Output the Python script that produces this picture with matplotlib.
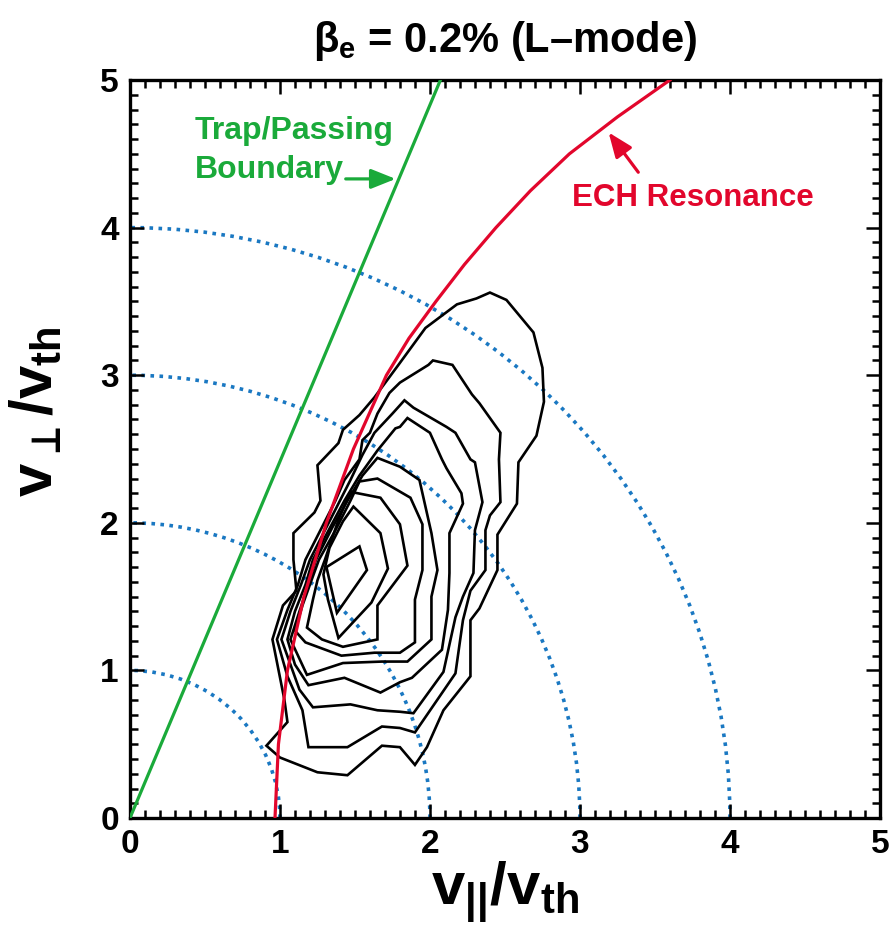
import matplotlib.pyplot as plt
from matplotlib.patches import Arc, Polygon

FONT = ['Liberation Sans', 'DejaVu Sans']
plt.rcParams['font.family'] = FONT
plt.rcParams['font.weight'] = 'bold'
plt.rcParams['mathtext.fontset'] = 'custom'
plt.rcParams['mathtext.bf'] = 'Liberation Sans:bold'
plt.rcParams['mathtext.rm'] = 'Liberation Sans:bold'
plt.rcParams['mathtext.it'] = 'Liberation Sans:bold'
plt.rcParams['mathtext.fallback'] = 'stixsans'

# energy circles |v|/vth
radii = [1, 2, 3, 4]

# trapped / passing boundary
trap_x = [0.0, 2.07]
trap_y = [0.0, 5.0]

# ECH resonance curve
ech_y = [0.0, 0.5, 1.0, 1.5, 2.0, 2.5, 3.0, 3.25, 3.5, 3.75, 4.0, 4.25, 4.5, 4.75, 5.0]
ech_x = [0.967, 0.99, 1.05, 1.16, 1.31, 1.49, 1.71, 1.86, 2.04, 2.23, 2.44, 2.67, 2.93, 3.25, 3.60]

# distribution contours (outer -> inner), v_par, v_perp
c1 = [(2.40, 3.56), (2.51, 3.51), (2.69, 3.29), (2.75, 3.05), (2.76, 2.82), (2.71, 2.59),
      (2.59, 2.41), (2.58, 2.13), (2.45, 1.92), (2.45, 1.68), (2.33, 1.42), (2.27, 1.34),
      (2.27, 0.96), (2.09, 0.73), (1.98, 0.48), (1.90, 0.36), (1.80, 0.48), (1.68, 0.49),
      (1.45, 0.29), (1.25, 0.31), (1.00, 0.41), (0.91, 0.49), (1.05, 0.65), (1.03, 0.80),
      (0.95, 1.21), (1.02, 1.44), (1.11, 1.54), (1.09, 1.75), (1.09, 1.93), (1.23, 2.07),
      (1.27, 2.15), (1.25, 2.39), (1.39, 2.54), (1.42, 2.63), (1.53, 2.73), (1.63, 2.85),
      (1.79, 3.07), (1.97, 3.32), (2.18, 3.48), (2.31, 3.52)]
c2 = [(2.02, 3.10), (2.15, 3.07), (2.28, 2.87), (2.33, 2.81), (2.47, 2.61), (2.46, 2.43),
      (2.47, 2.14), (2.40, 2.05), (2.37, 1.95), (2.37, 1.68), (2.27, 1.54), (2.22, 1.34),
      (2.17, 0.98), (1.90, 0.58), (1.80, 0.61), (1.68, 0.62), (1.45, 0.48), (1.19, 0.48),
      (1.15, 0.73), (1.05, 0.96), (0.98, 1.21), (1.05, 1.41), (1.12, 1.58), (1.17, 1.75),
      (1.27, 1.95), (1.37, 2.15), (1.43, 2.29), (1.53, 2.43), (1.55, 2.56), (1.60, 2.61),
      (1.65, 2.74), (1.73, 2.88), (1.80, 2.95), (1.99, 3.07)]
c3 = [(1.83, 2.83), (1.89, 2.78), (2.11, 2.65), (2.17, 2.61), (2.27, 2.43), (2.30, 2.41),
      (2.35, 2.14), (2.30, 1.95), (2.29, 1.66), (2.22, 1.50), (2.17, 1.36), (2.09, 0.99),
      (1.89, 0.71), (1.80, 0.72), (1.65, 0.73), (1.47, 0.77), (1.22, 0.75), (1.13, 0.87),
      (1.01, 1.21), (1.07, 1.40), (1.14, 1.58), (1.20, 1.75), (1.30, 1.95), (1.40, 2.15),
      (1.47, 2.29), (1.55, 2.46), (1.63, 2.61), (1.75, 2.74)]
c4 = [(1.85, 2.71), (2.00, 2.61), (2.08, 2.43), (2.11, 2.37), (2.21, 2.20), (2.22, 2.13),
      (2.13, 1.93), (2.13, 1.66), (2.12, 1.41), (2.08, 1.14), (1.88, 0.95), (1.80, 0.92),
      (1.67, 0.85), (1.43, 0.95), (1.19, 0.90), (1.10, 1.04), (1.05, 1.21), (1.10, 1.40),
      (1.17, 1.58), (1.22, 1.75), (1.33, 1.96), (1.43, 2.15), (1.53, 2.32), (1.65, 2.49),
      (1.77, 2.64), (1.80, 2.65)]
c5 = [(1.65, 2.44), (1.80, 2.38), (1.93, 2.29), (2.01, 1.93), (2.05, 1.68), (2.01, 1.50),
      (2.01, 1.21), (1.85, 1.06), (1.68, 1.06), (1.42, 1.05), (1.18, 0.97), (1.07, 1.21),
      (1.13, 1.40), (1.19, 1.58), (1.24, 1.75), (1.35, 1.97), (1.45, 2.15), (1.55, 2.32)]
c6 = [(1.53, 2.28), (1.65, 2.30), (1.87, 2.17), (1.95, 1.99), (1.95, 1.68), (1.90, 1.48),
      (1.90, 1.19), (1.80, 1.12), (1.63, 1.12), (1.41, 1.10), (1.17, 1.19), (1.10, 1.27),
      (1.15, 1.44), (1.21, 1.61), (1.26, 1.75), (1.37, 1.95), (1.47, 2.15)]
c7 = [(1.47, 2.21), (1.67, 2.17), (1.80, 1.99), (1.85, 1.71), (1.65, 1.44), (1.65, 1.21),
      (1.42, 1.16), (1.28, 1.21), (1.18, 1.29), (1.22, 1.48), (1.25, 1.61), (1.30, 1.75),
      (1.39, 2.02)]
c8 = [(1.49, 2.11), (1.67, 1.93), (1.72, 1.69), (1.61, 1.46), (1.39, 1.22), (1.32, 1.48),
      (1.29, 1.65), (1.33, 1.83), (1.42, 2.01)]
c9 = [(1.31, 1.70), (1.53, 1.84), (1.58, 1.68), (1.38, 1.39)]
contours = [c1, c2, c3, c4, c5, c6, c7, c8, c9]

GREEN = '#1aaa3a'
RED = '#e2062c'
BLUE = '#1a78c2'

fig = plt.figure(figsize=(8.9, 9.26), dpi=100)
ax = fig.add_axes([0.146, 0.1166, 0.8427, 0.797])

for r in radii:
    ax.add_patch(Arc((0, 0), 2 * r, 2 * r, theta1=0, theta2=90, color=BLUE,
                     lw=2.6, linestyle=(0, (1.0, 1.5)), zorder=1))

for c in contours:
    ax.add_patch(Polygon(c, closed=True, fill=False, ec='black', lw=1.9,
                         joinstyle='miter', zorder=2))

ax.plot(trap_x, trap_y, color=GREEN, lw=2.3, zorder=3)
ax.plot(ech_x, ech_y, color=RED, lw=2.3, zorder=3)

ax.set_xlim(0, 5)
ax.set_ylim(0, 5)
ax.set_xticks(range(6))
ax.set_yticks(range(6))
ax.set_xticks([i / 10 for i in range(51)], minor=True)
ax.set_yticks([i / 10 for i in range(51)], minor=True)
ax.tick_params(which='both', direction='in', top=True, right=True, width=1.8)
ax.tick_params(which='major', length=10, labelsize=24, pad=8)
ax.tick_params(which='minor', length=6)
for s in ax.spines.values():
    s.set_linewidth(2.4)

ax.set_xlabel(r'$\mathbf{v}_{\mathbf{||}}\mathbf{/v}_{\mathbf{th}}$', fontsize=43, labelpad=0)
ax.set_ylabel(r'$\mathbf{v}_{\bot}\mathbf{/v}_{\mathbf{th}}$', fontsize=43)
ax.yaxis.set_label_coords(-0.088, 0.55)
ax.set_title(r'$\mathbf{\beta_e}$ = 0.2% (L–mode)', fontsize=30, fontweight='bold', pad=20)

ax.text(0.43, 4.52, 'Trap/Passing\nBoundary', color=GREEN, fontsize=23, fontweight='bold',
        ha='left', va='center', linespacing=1.4)
ax.annotate('', xy=(1.79, 4.33), xytext=(1.42, 4.33),
            arrowprops=dict(arrowstyle='-|>,head_length=1.5,head_width=0.6', color=GREEN, lw=2.3))
ax.text(2.95, 4.2, 'ECH Resonance', color=RED, fontsize=22.5, fontweight='bold',
        ha='left', va='center')
ax.annotate('', xy=(3.18, 4.66), xytext=(3.4, 4.36),
            arrowprops=dict(arrowstyle='-|>,head_length=1.5,head_width=0.6', color=RED, lw=2.3))

fig.savefig('out.png', dpi=100)
